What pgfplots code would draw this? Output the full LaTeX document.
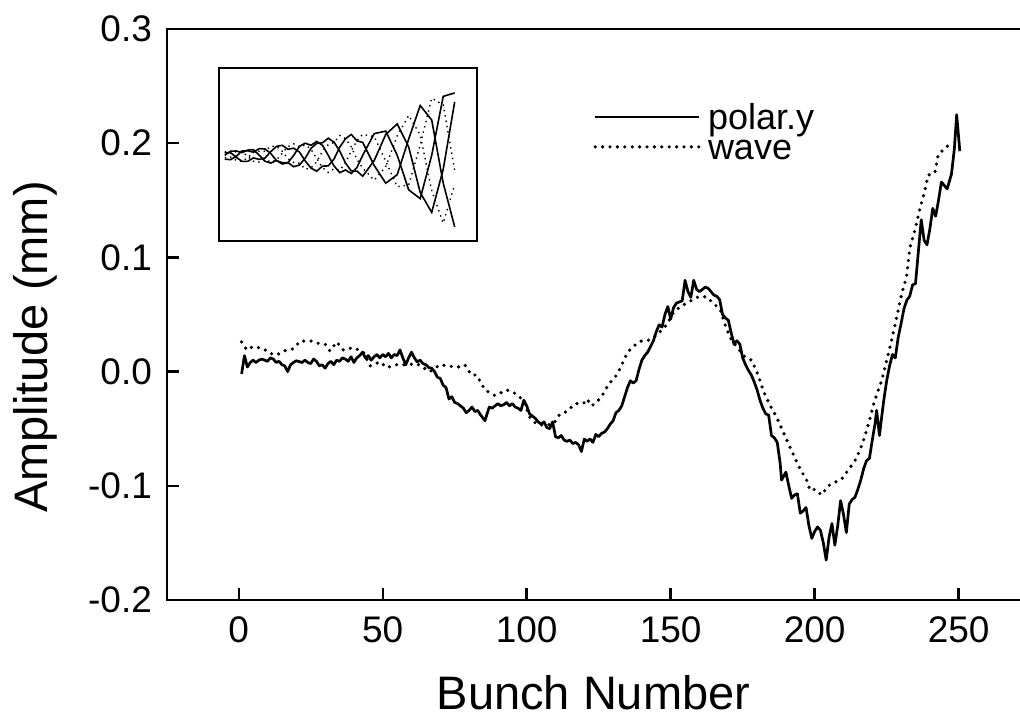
\documentclass[border=0pt]{standalone}
\usepackage{pgfplots}
\pgfplotsset{compat=1.18}
\usepackage{fontspec}
\setmainfont{Liberation Sans}
\begin{document}
\begin{tikzpicture}
\begin{axis}[
  at={(83.5pt,59.5pt)}, anchor=south west,
  scale only axis, width=426.5pt, height=285.5pt,
  xmin=-24.9, xmax=271.3, ymin=-0.2, ymax=0.3,
  axis lines=left, axis line style={-, line width=1.4pt, line cap=rect},
  tick align=inside, major tick length=6pt, tick style={line width=1.2pt, black},
  xtick={0,50,100,150,200,250},
  ytick={-0.2,-0.1,0,0.1,0.2,0.3},
  yticklabels={-0.2,-0.1,0.0,0.1,0.2,0.3},
  /pgf/number format/assume math mode=true,
  ticklabel style={font=\fontsize{18.5}{22}\selectfont},
  xticklabel style={yshift=-5pt},
  yticklabel style={xshift=-4pt},
  xlabel={Bunch Number}, ylabel={Amplitude (mm)},
  label style={font=\fontsize{23.5}{28}\selectfont},
  xlabel style={at={([yshift=-54.5pt]axis description cs:0.5,0)}, anchor=base},
  ylabel style={at={([xshift=-59.5pt]axis description cs:0,0.443)}, anchor=base},
  legend style={draw=none, fill=none, at={(rel axis cs:0.4994,0.8030)}, anchor=west,
    inner sep=0pt, font=\fontsize{18}{22}\selectfont,
    nodes={inner xsep=3.5pt, inner ysep=0pt, text height=9pt, text depth=6pt}},
  legend cell align=left,
  legend image code/.code={\path (0pt,0pt); \draw[#1] (0pt,4.8pt) -- (52pt,4.8pt);},
]
\draw[line width=1.4pt, line cap=rect] (rel axis cs:0,1) -- (rel axis cs:1,1);
\addplot[black, line width=1.35pt, line join=round] coordinates {
(1,-0.002)(2,0.014)(3,0.004)(4,0.008)(5,0.010)(6,0.008)(7,0.010)(8,0.011)(10,0.009)(11,0.012)(12,0.011)(13,0.008)(14,0.009)(15,0.006)(16,0.005)(17,0.000)(18,0.006)(19,0.008)(20,0.0095)(22,0.008)(23,0.010)(24,0.008)(25,0.007)(26,0.011)(27,0.009)(28,0.005)(29,0.006)(30,0.003)(31,0.007)(32,0.009)(33,0.006)(34,0.010)(35,0.009)(36,0.012)(37,0.011)(38,0.009)(39,0.013)(40,0.008)(41,0.012)(42,0.014)(43,0.017)(44,0.012)(45,0.014)(46,0.010)(47,0.013)(48,0.015)(49,0.012)(50,0.015)(51,0.013)(52,0.016)(53,0.012)(54,0.015)(55,0.014)(56,0.019)(57,0.012)(58,0.006)(59,0.012)(60,0.017)(61,0.012)(62,0.0085)(63,0.010)(64,0.007)(65,0.006)(66,0.0035)(67,0.003)(68,0.000)(69,-0.005)(70,-0.006)(71,-0.012)(72,-0.014)(73,-0.024)(74,-0.022)(75,-0.027)(76,-0.028)(77,-0.030)(78,-0.032)(79,-0.036)(80,-0.034)(81,-0.031)(82,-0.035)(83,-0.034)(84,-0.038)(85.5,-0.043)(87,-0.031)(88,-0.032)(89,-0.030)(90,-0.028)(91,-0.030)(92,-0.029)(93,-0.027)(94,-0.030)(95,-0.028)(96,-0.031)(97,-0.032)(98,-0.034)(99,-0.025)(100,-0.030)(101,-0.037)(102,-0.039)(103,-0.041)(104,-0.044)(105,-0.046)(106,-0.044)(107,-0.049)(108,-0.050)(109,-0.044)(110,-0.057)(111,-0.058)(112,-0.056)(113,-0.060)(114,-0.061)(115,-0.060)(116,-0.063)(117,-0.062)(118,-0.064)(119,-0.070)(120,-0.059)(121,-0.061)(122,-0.059)(123,-0.062)(124,-0.055)(125,-0.057)(126,-0.054)(127,-0.053)(128,-0.050)(129,-0.046)(130,-0.043)(131,-0.036)(132,-0.034)(133,-0.030)(134,-0.022)(135,-0.014)(136,-0.008)(137,-0.010)(138,-0.008)(139,0.002)(140,0.010)(141,0.014)(142,0.017)(143,0.022)(144,0.027)(145,0.035)(146,0.041)(147,0.039)(148,0.050)(149,0.057)(150,0.046)(151,0.056)(152,0.060)(153,0.061)(154,0.062)(155,0.080)(156,0.070)(157,0.065)(158,0.080)(159,0.072)(160,0.070)(161,0.072)(162,0.074)(163,0.073)(164,0.070)(165,0.067)(166,0.066)(167,0.063)(168,0.050)(169,0.047)(170,0.045)(171,0.034)(172,0.024)(173,0.027)(174,0.024)(175,0.012)(176,0.006)(177,0.001)(178,-0.003)(179,-0.009)(180,-0.016)(181,-0.025)(182,-0.032)(183,-0.037)(184,-0.038)(185,-0.056)(186,-0.058)(187,-0.062)(188,-0.080)(188.5,-0.095)(190,-0.088)(191,-0.100)(192,-0.111)(193,-0.108)(194,-0.107)(195,-0.124)(196,-0.122)(197,-0.119)(198,-0.135)(199,-0.146)(200,-0.140)(201,-0.136)(202,-0.139)(203,-0.150)(204,-0.165)(205,-0.145)(206,-0.133)(207,-0.152)(208,-0.135)(209,-0.113)(210,-0.125)(211,-0.141)(212,-0.116)(213,-0.112)(214,-0.110)(215,-0.103)(216,-0.095)(217,-0.085)(218,-0.078)(219,-0.076)(220,-0.060)(221,-0.045)(221.5,-0.034)(222.5,-0.056)(223,-0.045)(224,-0.025)(225,-0.008)(226,0.005)(227,0.015)(228,0.012)(229,0.030)(230,0.042)(231,0.055)(232,0.0625)(233,0.066)(234,0.076)(235,0.077)(236,0.105)(237,0.133)(238,0.115)(239,0.111)(240,0.125)(241,0.143)(242,0.136)(243,0.150)(244,0.166)(245,0.163)(246,0.160)(247.5,0.173)(248.5,0.195)(249.3,0.225)(250.4,0.193)
};
\addlegendentry{polar.y}
\addplot[black, line width=1.8pt, line cap=round, dash pattern=on 0pt off 3.7pt] coordinates {
(1,0.026)(2.8,0.019)(5.1,0.022)(8.6,0.020)(10.9,0.016)(13.2,0.0145)(15.5,0.018)(19,0.020)(21.3,0.0266)(24.8,0.027)(27.1,0.025)(30,0.024)(31.7,0.018)(34,0.026)(36.3,0.019)(39.8,0.021)(43.3,0.017)(45.6,0.005)(49.1,0.0085)(51.4,0.0035)(54.8,0.006)(58.3,0.006)(61.8,0.007)(66.4,0.000)(69.9,0.006)(73.4,0.0047)(76.2,0.004)(78.5,0.006)(80.8,-0.003)(82.6,-0.003)(85.5,-0.016)(89,-0.021)(90.7,-0.019)(93,-0.016)(95.9,-0.019)(98.8,-0.025)(101.1,-0.040)(103.4,-0.046)(106,-0.047)(109.2,-0.046)(111.6,-0.037)(113.9,-0.035)(116.8,-0.028)(119.7,-0.028)(120.9,-0.024)(122.6,-0.030)(124.9,-0.025)(126.7,-0.019)(128.4,-0.011)(130.7,-0.005)(132.4,0.0025)(134.8,0.0157)(136.5,0.021)(139.4,0.0266)(142.3,0.0275)(145.2,0.032)(148.6,0.041)(151,0.052)(153.3,0.0567)(156.2,0.061)(159.6,0.0655)(162.5,0.0655)(164.8,0.0596)(167.1,0.055)(168.9,0.041)(170.6,0.030)(172.9,0.0216)(175.8,0.0128)(178.1,0.010)(180.4,-0.0033)(182.1,-0.0164)(184.5,-0.0296)(186.8,-0.040)(189.1,-0.053)(191.4,-0.066)(193.2,-0.076)(194.9,-0.085)(197.2,-0.095)(198.4,-0.104)(200.1,-0.103)(202.4,-0.108)(204.7,-0.100)(207,-0.097)(209.4,-0.094)(211.7,-0.086)(214,-0.078)(215.7,-0.069)(217.5,-0.056)(219.2,-0.041)(220.4,-0.029)(222.1,-0.016)(223.3,-0.0076)(226,0.020)(228,0.042)(230.2,0.068)(231.9,0.083)(233,0.108)(234.8,0.124)(236.5,0.142)(238.2,0.158)(239.4,0.172)(241.7,0.174)(242.9,0.190)(245.8,0.197)(247.5,0.199)
};
\addlegendentry{wave}
\end{axis}
\begin{axis}[
  at={(109.5pt,239pt)}, anchor=south west,
  scale only axis, width=129pt, height=86.5pt,
  xmin=-2.5, xmax=109.7, ymin=-85.7, ymax=87.3,
  xtick=\empty, ytick=\empty,
  axis line style={line width=1pt},
]
\addplot[black, line width=0.8pt] coordinates {(0,0)(2.5,4.1)(5,4.3)(7.5,2.7)(10,5.2)(12.5,5.6)(15,0)(17.5,-5.9)(20,-7.8)(22.5,-5.2)(25,-8.7)(27.5,-7.4)(30,0)(32.5,9)(35,12.1)(37.5,10)(40,13.9)(42.5,10)(45,0)(47.5,-10.6)(50,-17.3)(52.5,-14.7)(55,-18.2)(57.5,-12.1)(60,0)(65,21.7)(70,24.2)(75,0)(80,-34.6)(85,-43.3)(90,0)(95,58.9)(100,62.4)};
\addplot[black, line width=0.7pt, dotted] coordinates {(0,3.8)(2.5,1.8)(5,3.7)(7.5,3.8)(10,-1.2)(12.5,-6)(15,-6.7)(17.5,-4.2)(20,-6.7)(22.5,-4.8)(25,2.1)(27.5,8.8)(30,11.4)(32.5,8.4)(35,10.4)(37.5,6)(40,-3.3)(42.5,-12.2)(45,-17.1)(47.5,-13.5)(50,-14.9)(52.5,-7.8)(55,4.4)(57.5,14.7)(60,20.9)(65,18.6)(70,-5.8)(75,-31.4)(80,-29.7)(85,10.4)(90,57.1)(95,50.5)(100,-15.0)};
\addplot[black, line width=0.8pt] coordinates {(0,2.4)(2.5,2.7)(5,-2.0)(7.5,-6)(10,-6.0)(12.5,-2.6)(15,-4.1)(17.5,-2.7)(20,3.7)(22.5,8.9)(25,10.0)(27.5,6)(30,7.1)(32.5,3.2)(35,-5.7)(37.5,-12.8)(40,-15.9)(42.5,-10.8)(45,-10.6)(47.5,-3.8)(50,8.1)(52.5,16.5)(55,20.9)(57.5,14.4)(60,12.9)(65,-10.2)(70,-27.9)(75,-19.4)(80,16.3)(85,49.8)(90,35.3)(95,-27.7)(100,-71.6)};
\addplot[black, line width=0.7pt, dotted] coordinates {(0,-2.4)(2.5,-1.7)(5,-5.0)(7.5,-6.2)(10,-2.4)(12.5,2.9)(15,4.1)(17.5,4)(20,9.0)(22.5,9)(25,4.1)(27.5,-3.5)(30,-7.1)(32.5,-8)(35,-13.9)(37.5,-12.7)(40,-6.5)(42.5,4.1)(45,10.6)(47.5,12.8)(50,19.9)(52.5,16.7)(55,8.5)(57.5,-4.2)(60,-12.9)(65,-24.9)(70,-11.4)(75,19.4)(80,39.8)(85,20.4)(90,-35.3)(95,-67.7)(100,-29.3)};
\addplot[black, line width=0.8pt] coordinates {(0,-3.8)(2.5,-4.4)(5,-1.0)(7.5,4.3)(10,4.5)(12.5,3.1)(15,6.7)(17.5,6.3)(20,1.9)(22.5,-5.3)(25,-7.4)(27.5,-7.4)(30,-11.4)(32.5,-9.7)(35,-2.9)(37.5,7)(40,11.9)(42.5,12.5)(45,17.1)(47.5,13.2)(50,4.2)(52.5,-7.7)(55,-15.6)(57.5,-15.8)(60,-20.9)(65,-5.2)(70,20.8)(75,31.4)(80,8.3)(85,-37.2)(90,-57.1)(95,-14.1)(100,53.5)};
\end{axis}
\pgfresetboundingbox
\useasboundingbox (0,0) rectangle (510pt,359.5pt);
\end{tikzpicture}
\end{document}
